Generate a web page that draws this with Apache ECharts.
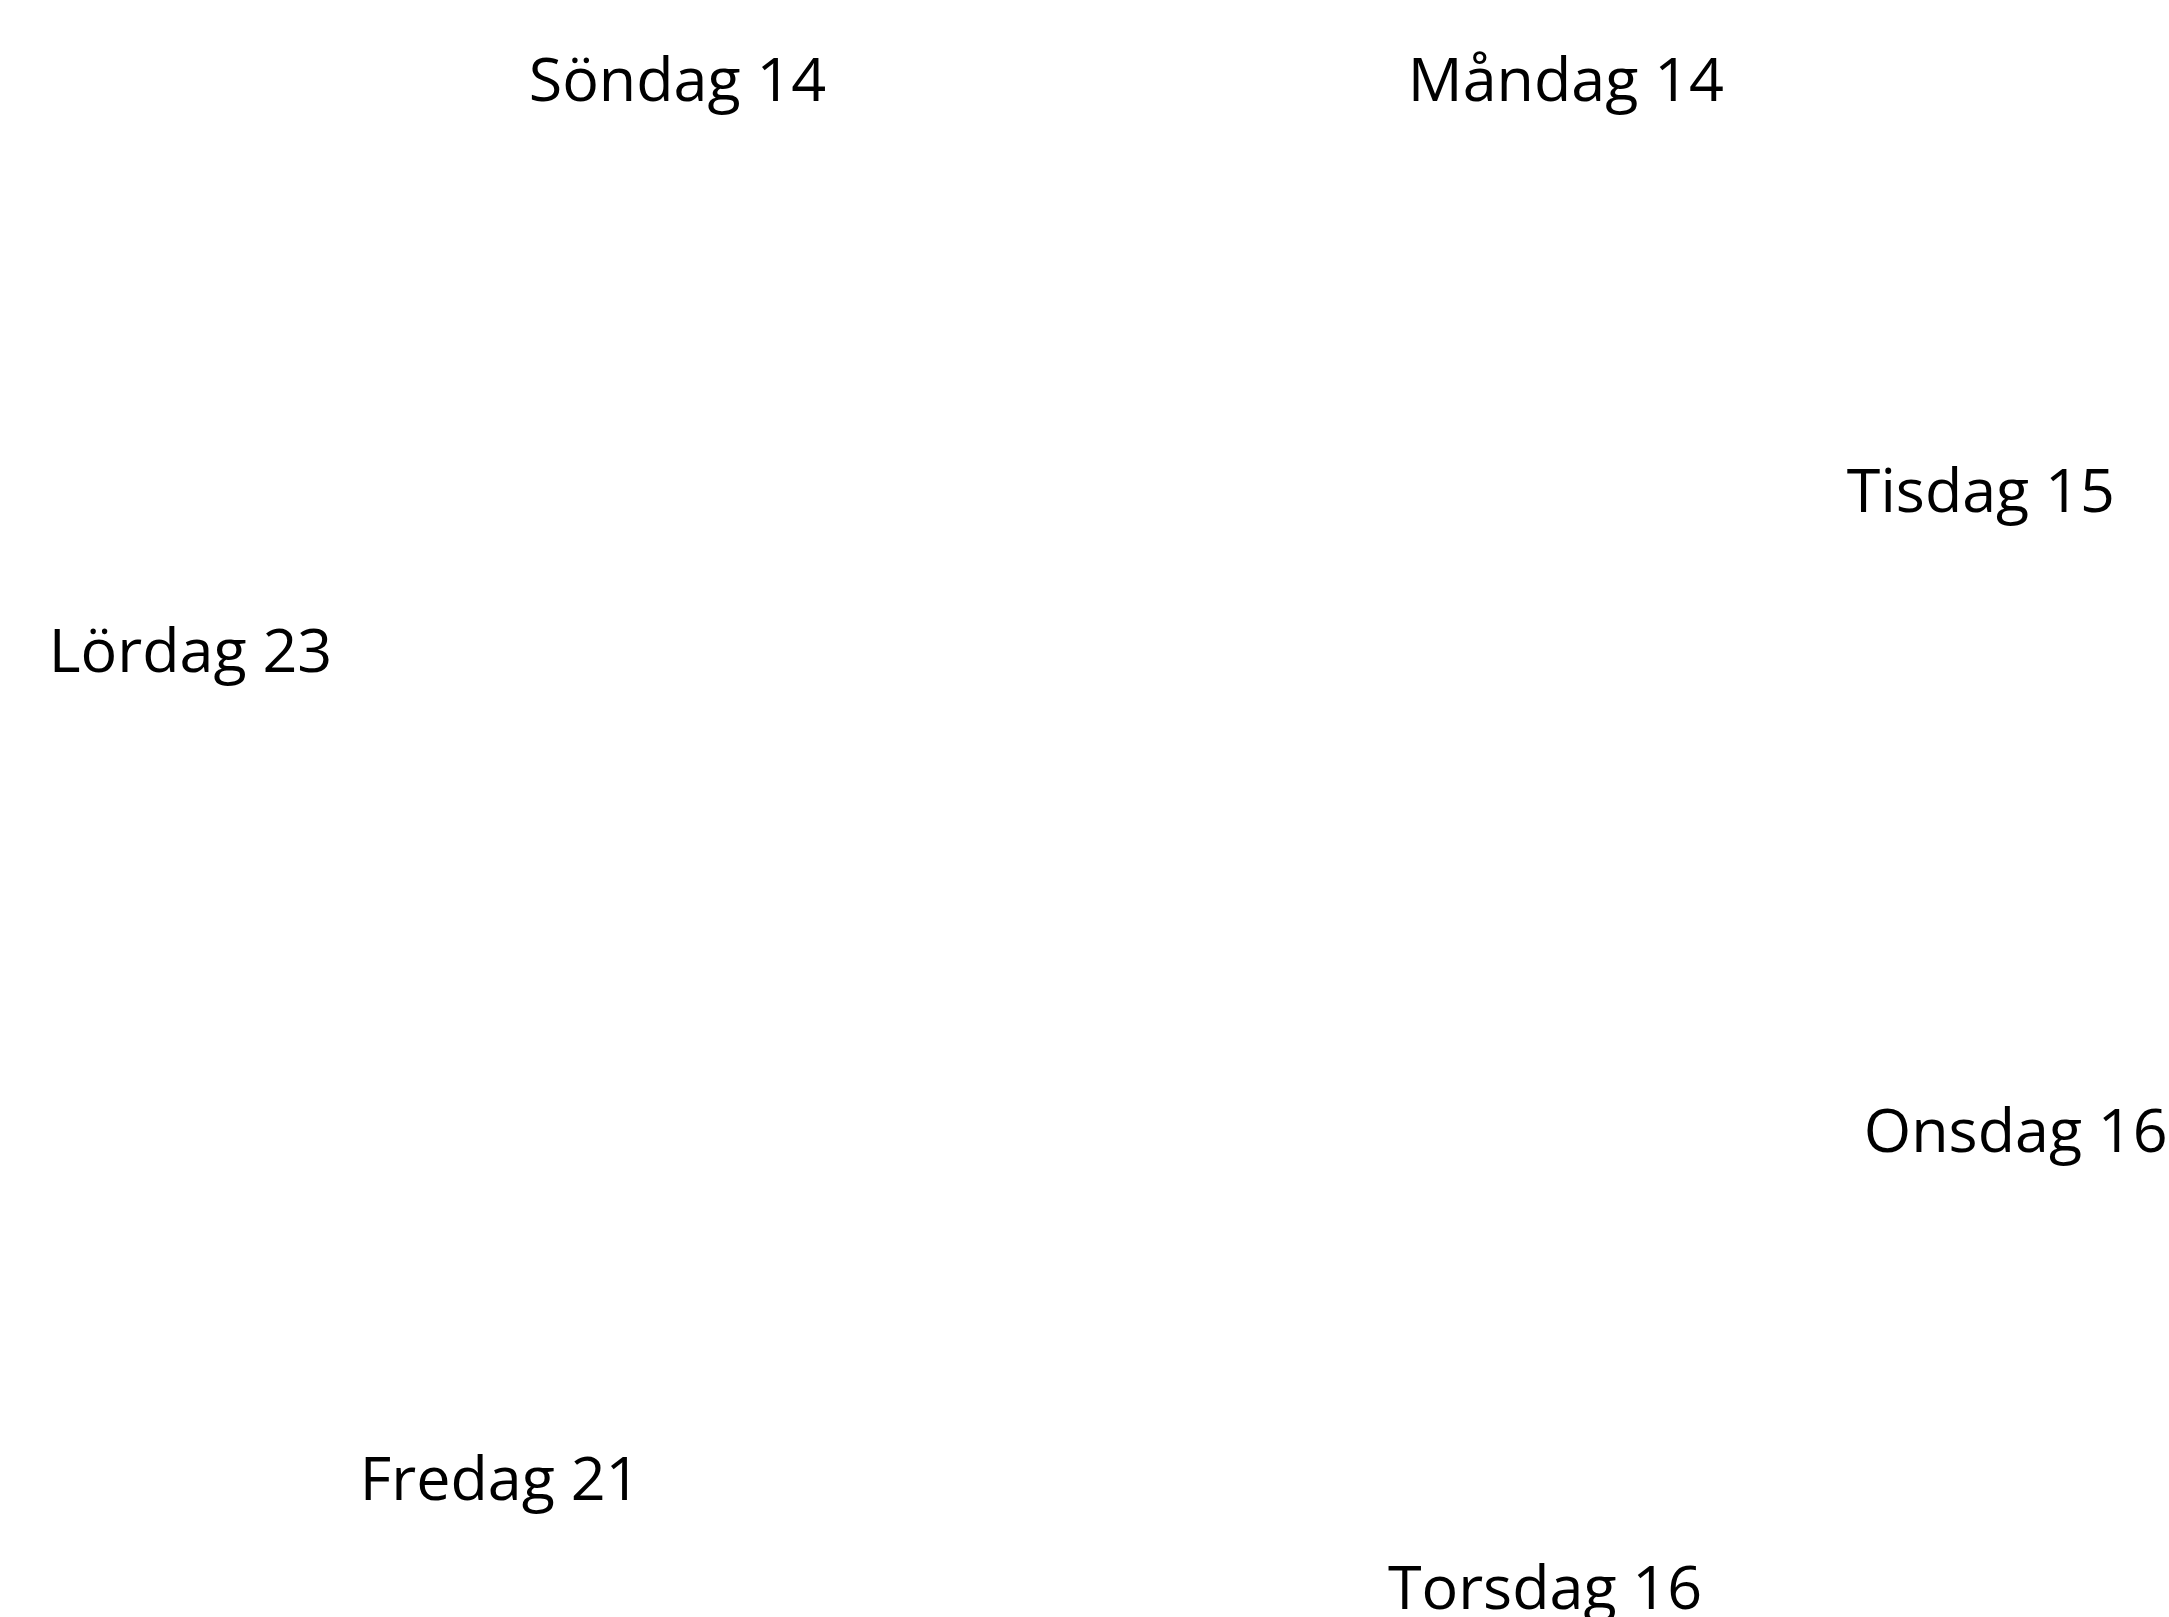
<!DOCTYPE html>
<html>
<head>
<meta charset="utf-8">
<script src="https://cdn.jsdelivr.net/npm/echarts@6/dist/echarts.min.js"></script>
<style>
html,body{margin:0;padding:0;background:#fff;}
#chart{width:2169px;height:1617px;}
</style>
</head>
<body>
<div id="chart"></div>
<script>
const days = ['Måndag', 'Tisdag', 'Onsdag', 'Torsdag', 'Fredag', 'Lördag', 'Söndag'];
const counts = [14, 15, 16, 16, 21, 23, 14];

const chart = echarts.init(document.getElementById('chart'), null, {renderer: 'canvas'});
chart.setOption({
  backgroundColor: '#ffffff',
  animation: false,
  series: [{
    type: 'pie',
    center: [1117, 834],
    radius: 790,
    startAngle: 90,
    clockwise: true,
    avoidLabelOverlap: false,
    itemStyle: {color: '#ffffff', borderWidth: 0},
    label: {
      show: true,
      position: 'outside',
      formatter: '{b} {c}',
      fontFamily: 'Open Sans',
      fontSize: 61,
      color: '#000000',
      distanceToLabelLine: 0
    },
    labelLine: {show: false, length: 15, length2: 0},
    emphasis: {disabled: true},
    data: days.map((d, i) => ({name: d, value: counts[i]}))
  }]
});
</script>
</body>
</html>
